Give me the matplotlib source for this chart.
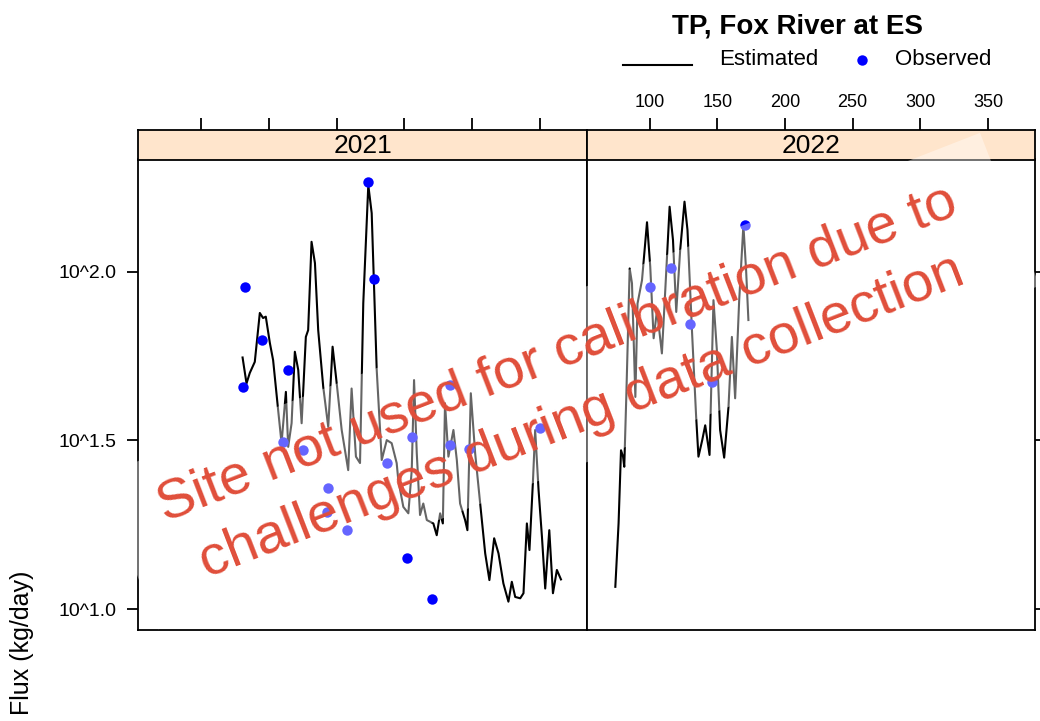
import matplotlib
matplotlib.use("Agg")
import matplotlib.pyplot as plt
import matplotlib.transforms as mtransforms
from matplotlib.patches import Rectangle
from matplotlib.lines import Line2D

plt.rcParams['font.family'] = ['Liberation Sans', 'DejaVu Sans']

W, H = 1040, 721

years = ['2021', '2022']

# estimated daily flux (day of year, log10 kg/day)
est_doy_2021 = [130.8, 133.7, 136.1, 139.8, 143.5, 145.9, 147.9, 150.9, 153.3, 157.0,
                159.5, 162.7, 164.4, 166.9, 169.3, 171.8, 174.3, 177.4, 179.1, 181.6,
                184.1, 186.5, 190.2, 193.9, 197.1, 199.6, 203.8, 208.6, 211.1, 214.3,
                217.3, 219.7, 223.4, 225.9, 229.6, 233.3, 237.0, 240.6, 244.3, 245.5,
                249.2, 252.9, 255.4, 257.1, 259.1, 261.5, 263.9, 266.5, 271.3, 273.8,
                276.3, 278.3, 279.9, 282.4, 286.1, 288.6, 291.0, 294.7, 296.4, 298.9,
                302.1, 305.8, 309.5, 312.6, 316.1, 319.3, 322.9, 326.6, 329.1, 331.6,
                335.3, 337.7, 340.2, 342.1, 344.6, 346.3, 348.8, 351.3, 353.7, 356.7,
                359.4, 362.3, 365.3]
est_log_2021 = [1.746, 1.669, 1.700, 1.733, 1.878, 1.863, 1.867, 1.789, 1.738, 1.590,
                1.492, 1.644, 1.481, 1.551, 1.763, 1.709, 1.551, 1.807, 1.827, 2.089,
                2.026, 1.827, 1.659, 1.540, 1.778, 1.689, 1.531, 1.412, 1.654, 1.452,
                1.433, 1.907, 2.257, 2.174, 1.709, 1.442, 1.501, 1.492, 1.433, 1.382,
                1.303, 1.284, 1.412, 1.679, 1.462, 1.279, 1.313, 1.264, 1.254, 1.219,
                1.284, 1.254, 1.610, 1.452, 1.531, 1.442, 1.313, 1.264, 1.234, 1.640,
                1.462, 1.313, 1.165, 1.086, 1.210, 1.165, 1.076, 1.022, 1.081, 1.036,
                1.032, 1.047, 1.254, 1.175, 1.373, 1.531, 1.353, 1.214, 1.061, 1.234,
                1.047, 1.116, 1.088]

est_doy_2022 = [74.7, 77.1, 78.9, 80.4, 81.3, 82.8, 85.3, 87.0, 89.5, 91.1,
                94.4, 98.1, 100.5, 103.0, 105.5, 109.1, 111.6, 114.8, 117.3, 119.7,
                122.6, 125.8, 128.0, 131.3, 134.4, 136.1, 138.9, 141.1, 144.3, 147.2,
                149.7, 152.1, 155.1, 158.3, 160.8, 163.2, 166.2, 169.3, 171.3, 173.0]
est_log_2022 = [1.066, 1.254, 1.471, 1.452, 1.422, 1.629, 2.010, 1.966, 1.629, 1.906,
                1.975, 2.147, 2.015, 1.803, 1.886, 1.758, 1.946, 2.193, 2.094, 1.881,
                2.064, 2.208, 2.124, 1.827, 1.570, 1.452, 1.501, 1.545, 1.457, 1.916,
                1.768, 1.531, 1.449, 1.600, 1.807, 1.625, 1.916, 2.138, 2.005, 1.857]

# observed samples
obs_doy_2021 = [130.8, 132.5, 144.8, 160.7, 164.4, 175.0, 192.7, 193.4, 207.5, 222.9,
                227.8, 237.0, 251.7, 255.4, 270.1, 283.6, 283.6, 297.6, 350.0]
obs_log_2021 = [1.657, 1.954, 1.798, 1.496, 1.709, 1.471, 1.288, 1.358, 1.234, 2.267,
                1.980, 1.432, 1.150, 1.511, 1.029, 1.486, 1.664, 1.476, 1.536]

obs_doy_2022 = [100.5, 115.8, 129.5, 146.0, 170.6]
obs_log_2022 = [1.956, 2.010, 1.844, 1.674, 2.138]

xticks = [100, 150, 200, 250, 300, 350]
yticks = [1.0, 1.5, 2.0]
ytick_labels = ['10^1.0', '10^1.5', '10^2.0']

est = {'2021': (est_doy_2021, est_log_2021), '2022': (est_doy_2022, est_log_2022)}
obs = {'2021': (obs_doy_2021, obs_log_2021), '2022': (obs_doy_2022, obs_log_2022)}

fig = plt.figure(figsize=(W / 100, H / 100), dpi=100)
px = mtransforms.Affine2D().scale(1 / W, 1 / H) + fig.transFigure


def box(x0, y0, x1, y1):
    # pixel box, y measured from top
    return [x0 / W, 1 - y1 / H, (x1 - x0) / W, (y1 - y0) / H]


panel_x = [(138.3, 587.3), (587.3, 1035)]
lw_frame = 1.3

for i, yr in enumerate(years):
    x0, x1 = panel_x[i]
    ax = fig.add_axes(box(x0, 159.5, x1, 630))
    sx = fig.add_axes(box(x0, 130, x1, 159.5))

    d, v = est[yr]
    ax.plot(d, v, color='black', lw=1.5, zorder=2)
    d, v = obs[yr]
    ax.plot(d, v, 'o', color='blue', ms=7.5, mec='none', zorder=3)

    ax.set_xlim(54, 384.7)
    ax.set_ylim(0.938, 2.333)
    ax.set_xticks([])
    ax.set_yticks(yticks)
    if i == 0:
        ax.set_yticklabels(ytick_labels)
        ax.tick_params(axis='y', left=True, right=False, direction='out',
                       length=8, width=lw_frame, labelsize=14, pad=7.5)
    else:
        ax.tick_params(axis='y', left=False, labelleft=False, right=True,
                       direction='out', length=8, width=lw_frame)
    for s in ax.spines.values():
        s.set_linewidth(lw_frame)

    # strip with year
    sx.set_facecolor('#ffe5cc')
    sx.set_xlim(54, 384.7)
    sx.set_yticks([])
    sx.set_xticks(xticks)
    sx.xaxis.set_ticks_position('top')
    sx.tick_params(axis='x', direction='out', length=9, width=lw_frame,
                   labelsize=13, pad=4.5, labeltop=(i == 1), labelbottom=False)
    for s in sx.spines.values():
        s.set_linewidth(lw_frame)
    sx.text(0.5, 0.45, yr, transform=sx.transAxes, ha='center', va='center', fontsize=19)

# title and key
fig.text(797.5 / W, 1 - 33.3 / H, 'TP, Fox River at ES', ha='center', va='baseline',
         fontsize=20, fontweight='bold')
fig.add_artist(Line2D([622.7, 691.7], [H - 65, H - 65], transform=px, color='black', lw=1.5))
fig.text(719.3 / W, 1 - 65 / H, 'Estimated', ha='left', va='baseline', fontsize=16)
fig.add_artist(Line2D([861.7], [H - 60], transform=px, marker='o', ms=7.5,
                      color='blue', mec='none', ls='none'))
fig.text(895 / W, 1 - 65 / H, 'Observed', ha='left', va='baseline', fontsize=16)

fig.text(22 / W, 1 - 643 / H, 'Flux (kg/day)', rotation=90, ha='center', va='center',
         fontsize=18)

# overlay note on a translucent white band
band = Rectangle((158.2, H - 629.3), 946, 164, angle=21.3, transform=px,
                 facecolor='white', edgecolor='none', alpha=0.4, zorder=4)
fig.add_artist(band)
fig.text(570 / W, 1 - 386 / H,
         'Site not used for calibration due to\nchallenges during data collection',
         rotation=21.2, rotation_mode='anchor', ha='center', va='center',
         multialignment='center', linespacing=1.38, fontsize=40.5,
         color='#E04E3A', zorder=5)

fig.savefig('out.png', dpi=100)
